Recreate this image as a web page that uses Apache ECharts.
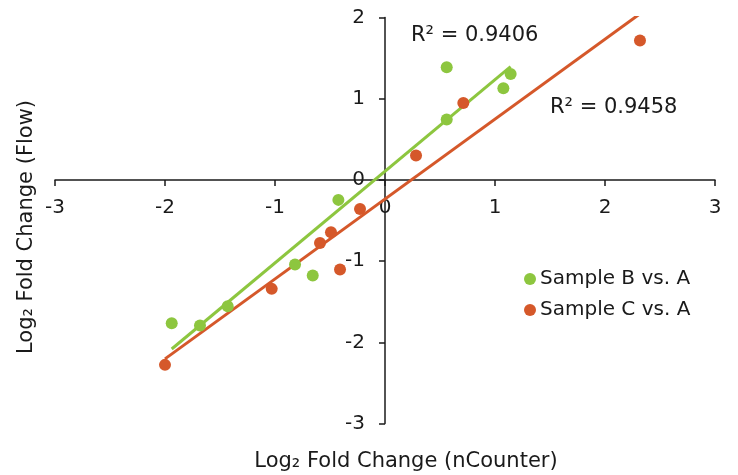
<!DOCTYPE html>
<html>
<head>
<meta charset="utf-8">
<script src="https://cdn.jsdelivr.net/npm/echarts@6/dist/echarts.min.js"></script>
<style>html,body{margin:0;padding:0;background:#fff}#c{width:738px;height:475px}</style>
</head>
<body>
<div id="c"></div>
<script>
// Data
var seriesNames = ['Sample B vs. A', 'Sample C vs. A'];
var sampleBx = [-1.939, -1.682, -1.430, -0.818, -0.657, -0.424, 0.561, 0.561, 1.076, 1.142];
var sampleBy = [-1.764, -1.794, -1.556, -1.043, -1.178, -0.246, 1.388, 0.743, 1.129, 1.305];
var sampleCx = [-2.000, -1.030, -0.591, -0.491, -0.409, -0.227, 0.282, 0.712, 2.318];
var sampleCy = [-2.278, -1.342, -0.776, -0.644, -1.104, -0.357, 0.300, 0.948, 1.716];
var r2Labels = ['R\u00b2 = 0.9406', 'R\u00b2 = 0.9458'];
var xTicks = [-3, -2, -1, 0, 1, 2, 3];
var yTicks = [-3, -2, -1, 0, 1, 2];

var FONT = 'DejaVu Sans';
var FS = 20;
var FT = 21;
var TXT = '#1a1a1a';
var GREEN = '#8dc63f';
var ORANGE = '#d5582a';

var G = { left: 55, right: 23, top: 17.5, bottom: 51.5 };
var W = 738, H = 475;
var gw = W - G.left - G.right, gh = H - G.top - G.bottom;
var xMin = xTicks[0], xMax = xTicks[xTicks.length - 1];
var yMin = yTicks[0], yMax = yTicks[yTicks.length - 1];
// shift axes so they cross at zero
var xOffset = -gh * (0 - yMin) / (yMax - yMin);
var yOffset = -gw * (0 - xMin) / (xMax - xMin);

function pairs(xs, ys) { return xs.map(function (x, i) { return [x, ys[i]]; }); }
function fitLine(xs, ys) {
  var n = xs.length, mx = 0, my = 0;
  for (var i = 0; i < n; i++) { mx += xs[i]; my += ys[i]; }
  mx /= n; my /= n;
  var sxy = 0, sxx = 0;
  for (var j = 0; j < n; j++) { sxy += (xs[j] - mx) * (ys[j] - my); sxx += (xs[j] - mx) * (xs[j] - mx); }
  var b = sxy / sxx, a = my - b * mx;
  var x0 = Math.min.apply(null, xs), x1 = Math.max.apply(null, xs);
  return [[x0, a + b * x0], [x1, a + b * x1]];
}

var chart = echarts.init(document.getElementById('c'), null, { renderer: 'canvas' });
chart.setOption({
  animation: false,
  backgroundColor: '#fff',
  grid: { left: G.left, right: G.right, top: G.top, bottom: G.bottom, containLabel: false },
  xAxis: {
    type: 'value', min: xMin, max: xMax, interval: 1, position: 'bottom', offset: xOffset,
    axisLine: { onZero: false, lineStyle: { color: TXT, width: 1.5 } },
    axisTick: { show: true, inside: false, length: 6, lineStyle: { color: TXT, width: 1.5 } },
    axisLabel: { color: TXT, fontFamily: FONT, fontSize: FS, margin: 18 },
    splitLine: { show: false }
  },
  yAxis: {
    type: 'value', min: yMin, max: yMax, interval: 1, position: 'left', offset: yOffset,
    axisLine: { onZero: false, lineStyle: { color: TXT, width: 1.5 } },
    axisTick: { show: true, inside: false, length: 6, lineStyle: { color: TXT, width: 1.5 } },
    axisLabel: { color: TXT, fontFamily: FONT, fontSize: FS, margin: 20 },
    splitLine: { show: false }
  },
  legend: {
    data: seriesNames.map(function (n) { return { name: n, icon: 'circle' }; }),
    orient: 'vertical', left: 519, top: 264, itemWidth: 12, itemHeight: 12, itemGap: 11,
    textStyle: { color: TXT, fontFamily: FONT, fontSize: FS, padding: [0, 0, 0, -1] }
  },
  series: [
    { name: seriesNames[0] + ' fit', type: 'line', data: fitLine(sampleBx, sampleBy), symbol: 'none',
      lineStyle: { color: GREEN, width: 3 }, silent: true, z: 2 },
    { name: seriesNames[1] + ' fit', type: 'line', data: fitLine(sampleCx, sampleCy), symbol: 'none',
      lineStyle: { color: ORANGE, width: 3 }, silent: true, z: 2 },
    { name: seriesNames[0], type: 'scatter', data: pairs(sampleBx, sampleBy), symbolSize: 12,
      itemStyle: { color: GREEN, opacity: 1 }, z: 3 },
    { name: seriesNames[1], type: 'scatter', data: pairs(sampleCx, sampleCy), symbolSize: 12,
      itemStyle: { color: ORANGE, opacity: 1 }, z: 3 }
  ],
  graphic: [
    { type: 'text', left: 411, top: 25, style: { text: r2Labels[0], fill: TXT, font: FT + 'px "' + FONT + '"' } },
    { type: 'text', left: 550, top: 97, style: { text: r2Labels[1], fill: TXT, font: FT + 'px "' + FONT + '"' } },
    { type: 'text', x: 406, y: 462, style: { text: 'Log\u2082 Fold Change (nCounter)', fill: TXT, font: FT + 'px "' + FONT + '"', align: 'center', verticalAlign: 'middle' } },
    { type: 'text', x: 27, y: 227, rotation: Math.PI / 2, style: { text: 'Log\u2082 Fold Change (Flow)', fill: TXT, font: FT + 'px "' + FONT + '"', align: 'center', verticalAlign: 'middle' } }
  ]
});
</script>
</body>
</html>
